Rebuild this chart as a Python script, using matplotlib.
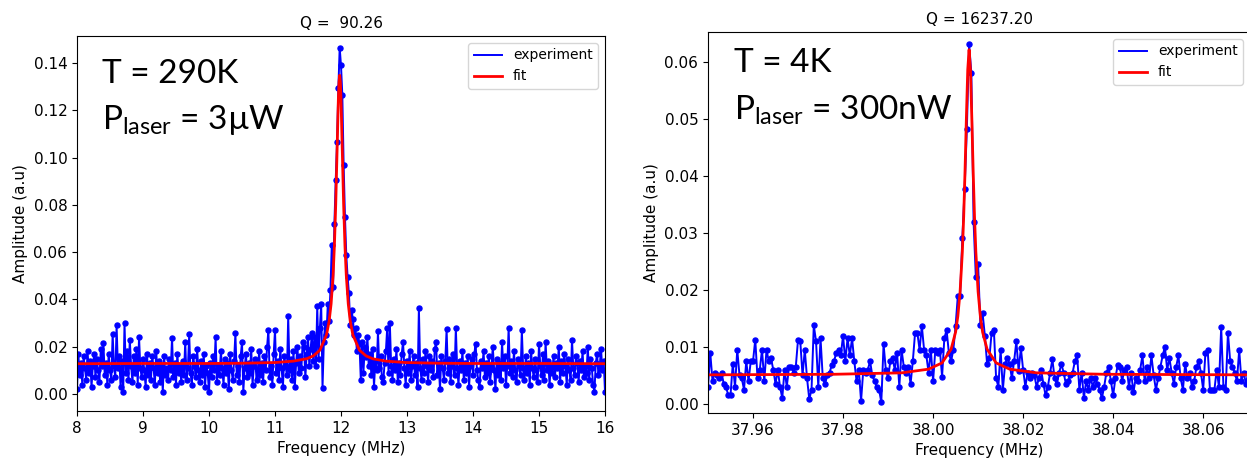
import matplotlib
matplotlib.use("Agg")
import matplotlib.pyplot as plt
import numpy as np


#---------------#
#  Data (290K)  #
#---------------#

# sweep 8 -> 16 MHz, one point every 0.02 MHz
f_start_290K = 8.0
f_step_290K = 0.02
amp_290K = [
    0.002, 0.017, 0.008, 0.013, 0.004, 0.016, 0.011, 0.006, 0.018, 0.009, 0.014, 0.003, 0.012, 0.017, 0.007, 0.015, 0.010, 0.005, 0.019, 0.012,
    0.0216, 0.008, 0.013, 0.004, 0.017, 0.010, 0.006, 0.0255, 0.012, 0.007, 0.029, 0.011, 0.016, 0.003, 0.014, 0.001, 0.030, 0.009, 0.018, 0.006,
    0.023, 0.012, 0.005, 0.016, 0.009, 0.019, 0.004, 0.024, 0.011, 0.007, 0.015, 0.010, 0.003, 0.017, 0.008, 0.013, 0.006, 0.016, 0.011, 0.004,
    0.018, 0.009, 0.014, 0.005, 0.012, 0.001, 0.016, 0.008, 0.011, 0.006, 0.015, 0.010, 0.0238, 0.007, 0.013, 0.004, 0.017, 0.009, 0.012, 0.005,
    0.014, 0.008, 0.022, 0.006, 0.011, 0.0252, 0.009, 0.004, 0.016, 0.012, 0.007, 0.019, 0.010, 0.005, 0.014, 0.008, 0.017, 0.003, 0.012, 0.009,
    0.001, 0.013, 0.007, 0.016, 0.010, 0.024, 0.005, 0.012, 0.008, 0.018, 0.011, 0.004, 0.015, 0.009, 0.013, 0.002, 0.017, 0.010, 0.006, 0.014,
    0.0256, 0.008, 0.012, 0.005, 0.016, 0.022, 0.001, 0.011, 0.017, 0.007, 0.013, 0.009, 0.019, 0.004, 0.012, 0.015, 0.006, 0.010, 0.018, 0.008,
    0.013, 0.005, 0.016, 0.010, 0.020, 0.027, 0.007, 0.012, 0.004, 0.017, 0.027, 0.009, 0.014, 0.006, 0.019, 0.011, 0.003, 0.016, 0.012, 0.008,
    0.0328, 0.010, 0.015, 0.006, 0.018, 0.003, 0.013, 0.020, 0.009, 0.016, 0.011, 0.022, 0.020, 0.007, 0.017, 0.024, 0.012, 0.019, 0.026, 0.014,
    0.024, 0.012, 0.037, 0.015, 0.028, 0.038, 0.0025, 0.022, 0.030, 0.025, 0.038, 0.031, 0.044, 0.063, 0.0454, 0.072, 0.0905, 0.1067, 0.1293, 0.1465,
    0.139, 0.1265, 0.0969, 0.075, 0.0588, 0.0496, 0.0426, 0.0292, 0.0355, 0.0317, 0.025, 0.028, 0.018, 0.025, 0.021, 0.006, 0.022, 0.009, 0.020, 0.0155,
    0.024, 0.012, 0.017, 0.008, 0.019, 0.003, 0.014, 0.010, 0.0265, 0.011, 0.016, 0.007, 0.005, 0.013, 0.018, 0.028, 0.009, 0.030, 0.012, 0.006,
    0.015, 0.010, 0.019, 0.005, 0.013, 0.008, 0.017, 0.022, 0.011, 0.004, 0.014, 0.009, 0.018, 0.006, 0.012, 0.016, 0.008, 0.013, 0.003, 0.0365,
    0.011, 0.006, 0.015, 0.009, 0.018, 0.012, 0.005, 0.016, 0.010, 0.014, 0.007, 0.019, 0.022, 0.008, 0.013, 0.002, 0.016, 0.011, 0.006, 0.014,
    0.0274, 0.009, 0.015, 0.005, 0.012, 0.017, 0.008, 0.028, 0.011, 0.004, 0.014, 0.010, 0.018, 0.006, 0.013, 0.009, 0.016, 0.003, 0.012, 0.015,
    0.008, 0.017, 0.021, 0.010, 0.006, 0.003, 0.014, 0.011, 0.018, 0.007, 0.013, 0.009, 0.016, 0.005, 0.012, 0.020, 0.010, 0.002, 0.015, 0.008,
    0.013, 0.006, 0.022, 0.011, 0.016, 0.004, 0.012, 0.028, 0.009, 0.014, 0.007, 0.018, 0.010, 0.005, 0.015, 0.012, 0.008, 0.027, 0.011, 0.006,
    0.016, 0.009, 0.013, 0.004, 0.018, 0.011, 0.007, 0.015, 0.010, 0.005, 0.021, 0.012, 0.008, 0.017, 0.006, 0.022, 0.010, 0.014, 0.004, 0.012,
    0.009, 0.016, 0.007, 0.013, 0.011, 0.020, 0.005, 0.014, 0.009, 0.017, 0.012, 0.004, 0.015, 0.010, 0.006, 0.023, 0.011, 0.008, 0.016, 0.013,
    0.005, 0.014, 0.010, 0.018, 0.007, 0.012, 0.009, 0.020, 0.006, 0.015, 0.011, 0.004, 0.001, 0.013, 0.017, 0.008, 0.012, 0.019, 0.010, 0.014,
    0.001,
]

# fit curve
fit_f_290K = [8.0, 9.0, 10.0, 10.5, 11.0, 11.28, 11.48, 11.58, 11.68, 11.78, 11.82, 11.85, 11.88, 11.90,
              11.92, 11.94, 11.96, 11.97, 11.98, 11.99, 12.00, 12.02, 12.04, 12.06, 12.08, 12.11, 12.14,
              12.18, 12.28, 12.38, 12.48, 12.68, 12.98, 13.48, 14.0, 15.0, 16.0]
fit_amp_290K = [0.0128, 0.0129, 0.0129, 0.0130, 0.0133, 0.0139, 0.0149, 0.0161, 0.0185, 0.0250, 0.0308,
                0.0381, 0.0502, 0.0627, 0.0801, 0.1024, 0.1247, 0.1321, 0.1348, 0.1321, 0.1247, 0.1024,
                0.0801, 0.0627, 0.0502, 0.0381, 0.0308, 0.0250, 0.0185, 0.0161, 0.0149, 0.0139, 0.0133,
                0.0130, 0.0129, 0.0129, 0.0128]


#-------------#
#  Data (4K)  #
#-------------#

# sweep 37.95 -> 38.07 MHz, one point every 0.0005 MHz
f_start_4K = 37.95
f_step_4K = 0.0005
amp_4K = [
    0.003, 0.009, 0.004, 0.0055, 0.005, 0.0045, 0.0055, 0.0035, 0.003, 0.0015,
    0.0015, 0.007, 0.003, 0.0095, 0.005, 0.0045, 0.0025, 0.0075, 0.004, 0.0075,
    0.0075, 0.0113, 0.0045, 0.006, 0.0095, 0.004, 0.0095, 0.0075, 0.008, 0.006,
    0.0035, 0.006, 0.003, 0.001, 0.006, 0.003, 0.0065, 0.0065, 0.0055, 0.0065,
    0.0113, 0.011, 0.005, 0.0095, 0.0045, 0.0008, 0.0025, 0.0138, 0.011, 0.003,
    0.0115, 0.0045, 0.0035, 0.005, 0.0055, 0.0068, 0.0075, 0.009, 0.0095, 0.0085,
    0.012, 0.0075, 0.0115, 0.0085, 0.0115, 0.0075, 0.004, 0.006, 0.0005, 0.006,
    0.0055, 0.006, 0.0075, 0.005, 0.004, 0.003, 0.0025, 0.0003, 0.0105, 0.006,
    0.0045, 0.0075, 0.008, 0.006, 0.009, 0.003, 0.0095, 0.0065, 0.0055, 0.0065,
    0.0035, 0.0075, 0.0125, 0.0125, 0.0095, 0.0137, 0.0095, 0.0085, 0.0055, 0.0095,
    0.004, 0.0095, 0.009, 0.0095, 0.0048, 0.0115, 0.013, 0.009, 0.0075, 0.0095,
    0.0137, 0.019, 0.019, 0.0291, 0.0377, 0.0482, 0.0632, 0.0581, 0.0319, 0.0222,
    0.0245, 0.0139, 0.0159, 0.012, 0.007, 0.008, 0.0125, 0.013, 0.0045, 0.003,
    0.0095, 0.0025, 0.007, 0.008, 0.007, 0.0045, 0.0075, 0.011, 0.0058, 0.0098,
    0.006, 0.003, 0.0055, 0.0045, 0.0055, 0.005, 0.003, 0.0045, 0.006, 0.0035,
    0.0015, 0.003, 0.0055, 0.0078, 0.0045, 0.0035, 0.0055, 0.007, 0.0055, 0.0035,
    0.004, 0.005, 0.0055, 0.0075, 0.0085, 0.0025, 0.0055, 0.001, 0.004, 0.0025,
    0.0045, 0.003, 0.0045, 0.0035, 0.0025, 0.001, 0.003, 0.0055, 0.0065, 0.004,
    0.0015, 0.0045, 0.0068, 0.0065, 0.004, 0.006, 0.0065, 0.003, 0.0055, 0.002,
    0.0045, 0.004, 0.006, 0.0085, 0.004, 0.0065, 0.0045, 0.0085, 0.005, 0.0025,
    0.0045, 0.0065, 0.0085, 0.01, 0.006, 0.008, 0.0055, 0.0035, 0.0065, 0.0085,
    0.0045, 0.0025, 0.007, 0.0045, 0.0055, 0.003, 0.004, 0.0065, 0.0075, 0.0055,
    0.0025, 0.009, 0.0095, 0.0025, 0.0025, 0.0025, 0.006, 0.003, 0.0135, 0.003,
    0.0025, 0.0125, 0.0075, 0.0065, 0.0055, 0.004, 0.0095, 0.004, 0.0055, 0.0035,
    0.0055,
]

fit_f_4K = [37.95, 37.978, 37.993, 37.999, 38.002, 38.004, 38.005, 38.0055, 38.006, 38.0065,
            38.0068, 38.0071, 38.0074, 38.0077, 38.008, 38.0083, 38.0086, 38.0089, 38.0092,
            38.0095, 38.010, 38.0105, 38.011, 38.012, 38.014, 38.017, 38.023, 38.038, 38.07]
fit_amp_4K = [0.0051, 0.0052, 0.00545, 0.0061, 0.0072, 0.0096, 0.0126, 0.0154, 0.0197, 0.0267,
              0.0329, 0.0410, 0.0503, 0.0587, 0.0622, 0.0587, 0.0503, 0.0410, 0.0329, 0.0267,
              0.0197, 0.0154, 0.0126, 0.0096, 0.0072, 0.0061, 0.00545, 0.0052, 0.0051]

titles = ["Q =  90.26", "Q = 16237.20"]
temp_labels = ["T = 290K", "T = 4K"]
power_labels = [r"P$_\mathregular{laser}$ = 3µW", r"P$_\mathregular{laser}$ = 300nW"]


#----------#
#  Figure  #
#----------#

f_290K = f_start_290K + f_step_290K * np.arange(len(amp_290K))
f_4K = f_start_4K + f_step_4K * np.arange(len(amp_4K))

fig = plt.figure(figsize=(12.47, 4.59), dpi=100)
ax1 = fig.add_axes([77/1247, 48/459, 528/1247, 375/459])
ax2 = fig.add_axes([708/1247, 46/459, 542/1247, 381/459])

fs = 11

for ax, f, a, ff, fa in [(ax1, f_290K, amp_290K, fit_f_290K, fit_amp_290K),
                         (ax2, f_4K, amp_4K, fit_f_4K, fit_amp_4K)]:
    ax.plot(f, a, color="blue", lw=1.4, label="experiment")
    ax.plot(f, a, color="blue", ls="none", marker="o", ms=3.6)
    ax.plot(ff, fa, color="red", lw=2, label="fit")
    ax.set_xlabel("Frequency (MHz)", fontsize=fs)
    ax.set_ylabel("Amplitude (a.u)", fontsize=fs)
    ax.tick_params(labelsize=fs)
    ax.legend(loc="upper right", fontsize=10)

ax1.set_xlim(8, 16)
ax1.set_ylim(-0.0072, 0.1514)
ax1.set_xticks(np.arange(8, 17, 1))
ax1.set_yticks(np.arange(0, 0.141, 0.02))

ax2.set_xlim(37.95, 38.0704)
ax2.set_ylim(-0.0016, 0.0653)
ax2.set_xticks([37.96, 37.98, 38.00, 38.02, 38.04, 38.06])
ax2.set_yticks(np.arange(0, 0.061, 0.01))

text_y = [(0.875, 0.752), (0.895, 0.772)]
for i, ax in enumerate([ax1, ax2]):
    ax.set_title(titles[i], fontsize=fs)
    ax.text(0.048, text_y[i][0], temp_labels[i], transform=ax.transAxes, fontsize=24,
            family="Lato", va="baseline")
    ax.text(0.048, text_y[i][1], power_labels[i], transform=ax.transAxes, fontsize=24,
            family="Lato", va="baseline")

fig.savefig("out.png", dpi=100)
